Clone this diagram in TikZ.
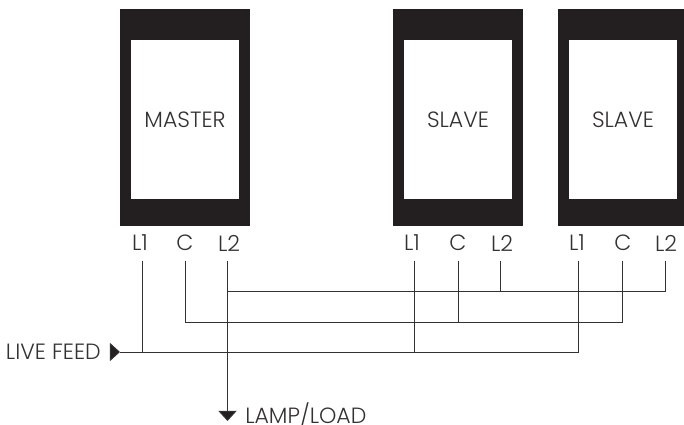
\documentclass[tikz,border=0pt]{standalone}
\usepackage{fontspec}
\setmainfont{Poppins}[UprightFont=* Light]
\usepackage{tikz}
\usetikzlibrary{arrows.meta}
\definecolor{panel}{HTML}{231F20}
\definecolor{ink}{HTML}{333132}
\begin{document}
\begin{tikzpicture}[x=0.025cm,y=-0.025cm]
	\useasboundingbox (0,0) rectangle (684,425);

	\begin{scope}[every node/.style={rectangle,fill=panel,minimum width=3.25cm,minimum height=5.425cm,inner sep=0pt}]
		\node (master) at (185,117.5) {};
		\node (slave1) at (458,117.5) {};
		\node (slave2) at (623,117.5) {};
	\end{scope}

	\begin{scope}[every node/.style={rectangle,fill=white,text=ink,minimum width=2.7cm,minimum height=3.975cm,inner sep=0pt,font=\fontsize{15.7}{18}\selectfont}]
		\node (masterface) at (185,119.5) {MASTER};
		\node (slave1face) at (458,119.5) {SLAVE};
		\node (slave2face) at (623,119.5) {SLAVE};
	\end{scope}

	\begin{scope}[every node/.style={text=ink,inner sep=0pt,font=\fontsize{15.7}{18}\selectfont}]
		\node (ml1) at (140,243) {L1};
		\node (mc) at (185,243) {C};
		\node (ml2) at (229,243) {L2};
		\node (al1) at (412,243) {L1};
		\node (ac) at (458,243) {C};
		\node (al2) at (502,243) {L2};
		\node (bl1) at (577,243) {L1};
		\node (bc) at (623,243) {C};
		\node (bl2) at (666,243) {L2};
		\node[anchor=east] (feed) at (101,351.5) {LIVE FEED};
		\node[anchor=west] (lamp) at (245,415) {LAMP/LOAD};
	\end{scope}

	% wire ends under the terminals
	\coordinate (ml1t) at (142,261);
	\coordinate (mct) at (185.5,261);
	\coordinate (ml2t) at (227.5,261);
	\coordinate (al1t) at (414,261);
	\coordinate (act) at (458,261);
	\coordinate (al2t) at (500.5,261);
	\coordinate (bl1t) at (578,261);
	\coordinate (bct) at (622.5,261);
	\coordinate (bl2t) at (665,261);

	% bus corners
	\coordinate (l2start) at (227.5,291);
	\coordinate (l2end) at (665,291);
	\coordinate (cstart) at (185.5,322);
	\coordinate (cend) at (622.5,322);
	\coordinate (l1end) at (578,352);
	\coordinate (feedtail) at (110,352);
	\coordinate (feedtip) at (120,352);
	\coordinate (lamptip) at (227.5,421);

	\begin{scope}[draw=ink,line width=0.7pt,>={Triangle[fill=panel,length=0.25cm,width=0.45cm]}]
		\draw (ml1t) -- (ml1t |- feedtip);
		\draw (mct) -- (cstart) -- (cend) -- (bct);
		\draw (ml2t) -- (l2start);
		\draw (l2start) -- (l2end) -- (bl2t);
		\draw (al1t) -- (al1t |- l1end);
		\draw (act) -- (act |- cend);
		\draw (al2t) -- (al2t |- l2end);
		\draw (bl1t) -- (l1end) -- (feedtip);
		\draw[->] (feedtail) -- (feedtip);
		\draw[->] (l2start) -- (lamptip);
	\end{scope}
\end{tikzpicture}
\end{document}
